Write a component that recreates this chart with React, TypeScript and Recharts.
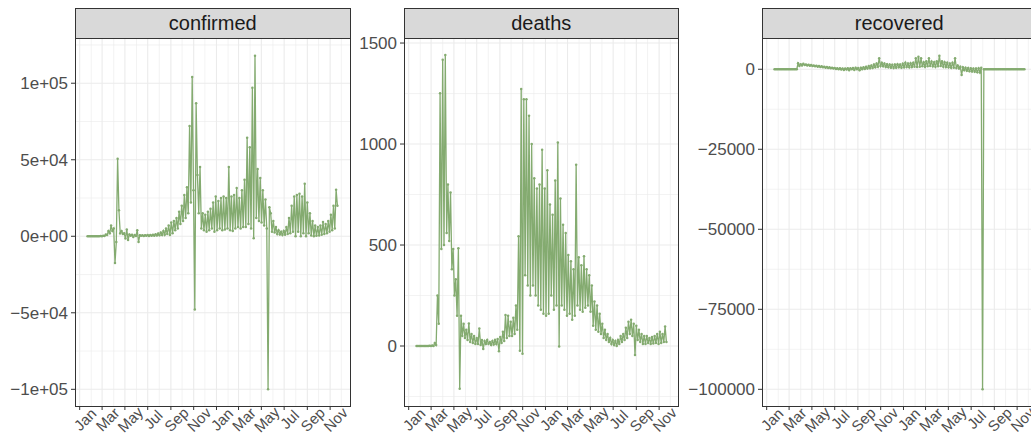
import React from 'react';
import { LineChart, Line, XAxis, YAxis, ReferenceLine } from 'recharts';

// days counted from 2020-01-01; first reading 2020-01-22, two readings per week
const FIRST_DAY = 21;
const STEP = 3.5;

const confirmed = [
  0, 0, 0, 0, 0, 0, 0, 0,
  0, 0, 100, 0, 400, 200, 1200, 800,
  3500, 2000, 7000, 3500, 5000, -17400, -3700, 50650,
  17000, 2000, 3500, 1500, 2000, -1500, 4400, -2500,
  1200, 300, 1000, -500, 800, 200, 3900, -3700,
  700, 300, 600, 200, 700, 300, 800, 200,
  900, 300, 1000, 400, 1300, 500, 1800, 600,
  2500, 800, 3500, 1000, 5000, 1500, 7000, 800,
  9000, 2000, 10000, 4000, 12000, 5000, 16000, 8000,
  20000, 10000, 27000, 12000, 32000, 15000, 72000, 22000,
  104000, 30000, -47800, 86900, 40000, 15000, 45200, 5000,
  15000, 4000, 14000, 3000, 16000, 4000, 18000, 5000,
  22000, 3000, 26000, 4000, 23000, 5000, 25000, 4000,
  26000, 4500, 25000, 5000, 45200, 4000, 26000, 3500,
  27000, 5000, 31500, 6000, 25000, 5000, 30000, 6000,
  37000, 6000, 64300, 8000, 58200, 5000, 97000, -1300,
  118000, 12000, 44000, 10000, 38000, 9000, 30000, 7000,
  24000, 5000, -100000, 19000, 15000, 3000, 10000, 2500,
  6000, 1500, 4000, 1200, 3000, 800, 3500, 1000,
  6000, 1500, 12000, 2000, 20000, 3000, 26000, 0,
  27000, 3000, 27800, 0, 26000, 2000, 34300, 0,
  22000, 2000, 15000, 500, 10000, 0, 7000, 300,
  6000, 500, 7000, 1000, 9300, 1500, 8000, 2000,
  10000, 3000, 14000, 4000, 20000, 5000, 30400, 20000,
];

const deaths = [
  0, 0, 0, 0, 0, 0, 0, 0,
  0, 0, 1, 0, 3, 0, 15, 5,
  250, 110, 1252, 480, 1417, 500, 1441, 560,
  800, 520, 760, 380, 480, 250, 330, 150,
  484, -212, 150, 50, 110, 40, 80, 30,
  112, 20, 60, 15, 50, 10, 40, 10,
  87, 5, 30, -15, 25, 10, 30, 10,
  20, 5, 25, 8, 30, 10, 35, -26,
  45, 15, 70, 25, 153, 40, 150, 50,
  120, 50, 140, 60, 200, 80, 544, -23,
  1272, -38, 1222, 350, 1222, 300, 1140, 250,
  1000, 300, 830, 250, 780, 200, 800, 180,
  972, 160, 780, 150, 870, 160, 700, 250,
  650, 180, 820, 200, 1008, -3, 730, 200,
  600, 180, 560, 150, 450, 160, 420, 130,
  380, 150, 897, 200, 440, 180, 400, 170,
  445, 190, 380, 200, 350, 170, 300, 100,
  220, 80, 200, 70, 160, 60, 110, 40,
  80, 30, 60, 20, 40, 10, 30, 5,
  25, 0, 30, 10, 50, 20, 60, 30,
  90, 40, 120, 60, 130, 50, 110, -44,
  100, 30, 80, 20, 60, 10, 50, 10,
  50, 15, 40, 10, 45, 12, 50, 15,
  60, 10, 70, 15, 60, 20, 97, 20,
];

const recovered = [
  0, 0, 0, 0, 0, 0, 0, 0,
  0, 0, 0, 0, 0, 0, 0, 0,
  0, 0, 1870, 1000, 1600, 1200, 1700, 1300,
  1500, 1200, 1400, 1100, 1300, 1000, 1200, 900,
  1100, 800, 1000, 700, 900, 600, 800, 500,
  700, 400, 600, 300, 500, 200, 400, 100,
  300, 0, 300, -100, 250, -200, 200, -100,
  300, -300, 300, 0, 400, -200, 500, 0,
  400, -300, 500, 0, 600, 100, 800, 200,
  1000, 300, 1200, 400, 1500, 600, 1800, 800,
  3400, 1000, 2000, 900, 1800, 700, 1600, 600,
  1500, 500, 1400, 400, 1500, 500, 1600, 600,
  1500, 500, 1700, 600, 2060, 700, 1800, 600,
  1900, 700, 2000, 800, 3400, 700, 3900, 800,
  3400, 900, 2200, 800, 2500, 900, 3400, 1000,
  2400, 900, 2200, 800, 2500, 900, 4240, 1000,
  2500, 800, 2200, 700, 2000, 600, 1800, 500,
  2000, 500, 3400, 400, 1200, 200, 800, -1780,
  600, -300, 500, -500, 400, -600, 300, -700,
  200, -800, 200, -900, 300, -1000, 500, -100000,
  0, 0, 0, 0, 0, 0, 0, 0,
  0, 0, 0, 0, 0, 0, 0, 0,
  0, 0, 0, 0, 0, 0, 0, 0,
  0, 0, 0, 0, 0, 0, 0, 0,
];

// x axis: month starts as day offsets from 2020-01-01
const monthTicks = [0, 60, 121, 182, 244, 305, 366, 425, 486, 547, 609, 670];
const monthLabels = ['Jan', 'Mar', 'May', 'Jul', 'Sep', 'Nov', 'Jan', 'Mar', 'May', 'Jul', 'Sep', 'Nov'];
const minorMonths = [31, 91, 152, 213, 274, 335, 397, 456, 517, 578, 639, 700];
const xDomain = [-12.5, 724.5];

const confirmedTicks = [-100000, -50000, 0, 50000, 100000];
const confirmedLabels = ['\u22121e+05', '\u22125e+04', '0e+00', '5e+04', '1e+05'];
const confirmedMinor = [-75000, -25000, 25000, 75000, 125000];

const deathsTicks = [0, 500, 1000, 1500];
const deathsLabels = ['0', '500', '1000', '1500'];
const deathsMinor = [-250, 250, 750, 1250];

const recoveredTicks = [-100000, -75000, -50000, -25000, 0];
const recoveredLabels = ['\u2212100000', '\u221275000', '\u221250000', '\u221225000', '0'];
const recoveredMinor = [-87500, -62500, -37500, -12500];

const GREEN = '#84AB70';
const GRID = '#EBEBEB';
const FONT = '"Liberation Sans", Arial, Helvetica, sans-serif';
const PLOT_W = 275.5;
const PLOT_TOP = 39;
const PLOT_BOTTOM = 406;

function MonthTick(props: any) {
  const { x, y, payload } = props;
  const label = monthLabels[monthTicks.indexOf(payload.value)];
  const cx = x + 5.5;
  const cy = y + 7.5;
  return (
    <text
      x={cx}
      y={cy}
      dy="0.35em"
      textAnchor="middle"
      fill="#4D4D4D"
      fontSize={15}
      transform={`rotate(-45, ${cx}, ${cy})`}
    >
      {label}
    </text>
  );
}

interface PanelProps {
  left: number;
  axisW: number;
  title: string;
  values: number[];
  domain: number[];
  ticks: number[];
  labels: string[];
  minor: number[];
}

function Panel({ left, axisW, title, values, domain, ticks, labels, minor }: PanelProps) {
  const data = values.map((v, i) => ({ day: FIRST_DAY + i * STEP, v }));
  return (
    <>
      <div style={{ position: 'absolute', left: left - axisW, top: 0 }}>
        <LineChart
          width={axisW + PLOT_W}
          height={435}
          data={data}
          margin={{ top: PLOT_TOP, right: 0, bottom: 0, left: 0 }}
        >
          {minor.map((d) => (
            <ReferenceLine key={'hm' + d} y={d} stroke={GRID} strokeWidth={0.6} />
          ))}
          {minorMonths.map((d) => (
            <ReferenceLine key={'vm' + d} x={d} stroke={GRID} strokeWidth={0.6} />
          ))}
          {ticks.map((d) => (
            <ReferenceLine key={'hM' + d} y={d} stroke={GRID} strokeWidth={1.1} />
          ))}
          {monthTicks.map((d) => (
            <ReferenceLine key={'vM' + d} x={d} stroke={GRID} strokeWidth={1.1} />
          ))}
          <XAxis
            dataKey="day"
            type="number"
            domain={xDomain}
            ticks={monthTicks}
            interval={0}
            height={435 - PLOT_BOTTOM}
            axisLine={false}
            tickLine={{ stroke: '#333333' }}
            tickSize={4}
            tick={<MonthTick />}
            allowDataOverflow
          />
          <YAxis
            type="number"
            domain={domain}
            ticks={ticks}
            interval={0}
            width={axisW}
            axisLine={false}
            tickLine={{ stroke: '#333333' }}
            tickSize={4}
            tickMargin={3}
            tick={{ fill: '#4D4D4D', fontSize: 17 }}
            tickFormatter={(v) => labels[ticks.indexOf(v)]}
            allowDataOverflow
          />
          <Line
            dataKey="v"
            type="linear"
            stroke={GREEN}
            strokeWidth={1.3}
            dot={{ r: 1.25, fill: GREEN, stroke: 'none' }}
            activeDot={false}
            isAnimationActive={false}
          />
        </LineChart>
      </div>
      <div
        style={{
          position: 'absolute',
          left,
          top: 8,
          width: PLOT_W,
          height: 31,
          boxSizing: 'border-box',
          border: '1px solid #333333',
          background: '#D9D9D9',
          color: '#1A1A1A',
          fontSize: 20,
          lineHeight: '29px',
          textAlign: 'center',
        }}
      >
        {title}
      </div>
      <div
        style={{
          position: 'absolute',
          left,
          top: PLOT_TOP - 1,
          width: PLOT_W,
          height: PLOT_BOTTOM - PLOT_TOP + 2,
          boxSizing: 'border-box',
          border: '1px solid #333333',
          pointerEvents: 'none',
        }}
      />
    </>
  );
}

export default function App() {
  return (
    <div
      style={{
        position: 'absolute',
        left: 0,
        top: 0,
        width: 1031,
        height: 435,
        overflow: 'hidden',
        background: '#FFFFFF',
        fontFamily: FONT,
      }}
    >
      <Panel
        left={75}
        axisW={75}
        title="confirmed"
        values={confirmed}
        domain={[-110900, 128900]}
        ticks={confirmedTicks}
        labels={confirmedLabels}
        minor={confirmedMinor}
      />
      <Panel
        left={403.5}
        axisW={52}
        title="deaths"
        values={deaths}
        domain={[-297, 1520]}
        ticks={deathsTicks}
        labels={deathsLabels}
        minor={deathsMinor}
      />
      <Panel
        left={761.5}
        axisW={82}
        title="recovered"
        values={recovered}
        domain={[-105212, 9452]}
        ticks={recoveredTicks}
        labels={recoveredLabels}
        minor={recoveredMinor}
      />
    </div>
  );
}
